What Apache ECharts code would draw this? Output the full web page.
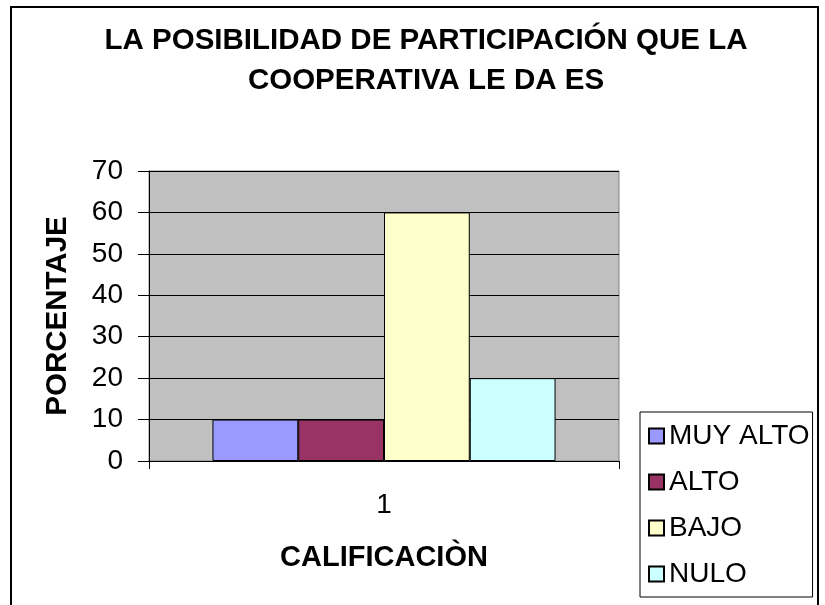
<!DOCTYPE html>
<html>
<head>
<meta charset="utf-8">
<script src="https://cdn.jsdelivr.net/npm/echarts@6/dist/echarts.min.js"></script>
<style>
html,body{margin:0;padding:0;background:#fff;}
#chart{width:825px;height:605px;}
</style>
</head>
<body>
<div id="chart"></div>
<script>
var titleText = 'LA POSIBILIDAD DE PARTICIPACIÓN QUE LA\nCOOPERATIVA LE DA ES';
var categories = ['1'];
var seriesNames = ['MUY ALTO', 'ALTO', 'BAJO', 'NULO'];
var seriesValues = [10, 10, 60, 20];
var seriesColors = ['#9999FF', '#993366', '#FFFFCC', '#CCFFFF'];
var yTicks = [0, 10, 20, 30, 40, 50, 60, 70];
var xAxisName = 'CALIFICACIÒN';
var yAxisName = 'PORCENTAJE';

var FONT = '"Liberation Sans", Arial, sans-serif';
var chart = echarts.init(document.getElementById('chart'), null, {renderer: 'canvas'});

var series = seriesNames.map(function (name, i) {
  return {
    name: name,
    type: 'bar',
    data: [seriesValues[i]],
    barGap: '0%',
    barCategoryGap: '27%',
    itemStyle: { color: seriesColors[i], borderColor: '#000', borderWidth: 1 },
    emphasis: { disabled: true },
    animation: false
  };
});

chart.setOption({
  animation: false,
  backgroundColor: '#fff',
  title: {
    text: titleText,
    left: 421,
    top: 16,
    textAlign: 'center',
    textStyle: { fontFamily: FONT, fontSize: 29.5, fontWeight: 'bold', color: '#000', lineHeight: 40 }
  },
  graphic: [{
    type: 'rect',
    shape: { x: 11, y: 7, width: 807, height: 610 },
    style: { fill: 'none', stroke: '#000', lineWidth: 2 },
    silent: true,
    z: -1
  }],
  grid: {
    left: 149, top: 171, width: 470, height: 290,
    show: true, backgroundColor: '#C0C0C0', borderColor: '#808080', borderWidth: 1
  },
  legend: {
    orient: 'vertical',
    left: 640,
    top: 412,
    padding: [10, 3, 9, 8],
    itemWidth: 15,
    itemHeight: 15,
    itemGap: 18,
    itemTextGap: 12,
    icon: 'rect',
    borderColor: '#000',
    borderWidth: 1,
    backgroundColor: '#fff',
    data: seriesNames,
    textStyle: { fontFamily: FONT, fontSize: 28, color: '#000', lineHeight: 28 }
  },
  xAxis: {
    type: 'category',
    data: categories,
    name: xAxisName,
    nameLocation: 'middle',
    nameGap: 82,
    nameTextStyle: { fontFamily: FONT, fontSize: 29, fontWeight: 'bold', color: '#000' },
    axisLine: { lineStyle: { color: '#000', width: 1 } },
    axisTick: { show: true, length: 8, lineStyle: { color: '#000' } },
    axisLabel: { fontFamily: FONT, fontSize: 28, color: '#000', margin: 30 },
    splitLine: { show: false }
  },
  yAxis: {
    type: 'value',
    min: 0,
    max: 70,
    interval: 10,
    name: yAxisName,
    nameLocation: 'middle',
    nameGap: 76,
    nameRotate: 90,
    nameTextStyle: { fontFamily: FONT, fontSize: 29.5, fontWeight: 'bold', color: '#000' },
    axisLine: { show: true, lineStyle: { color: '#000', width: 1 } },
    axisTick: { show: true, length: 11, lineStyle: { color: '#000' } },
    axisLabel: {
      fontFamily: FONT, fontSize: 28, color: '#000', margin: 26,
      formatter: function (v) { return yTicks.indexOf(v) >= 0 ? String(v) : ''; }
    },
    splitLine: { show: true, lineStyle: { color: '#000', width: 1 } }
  },
  series: series
});
</script>
</body>
</html>
